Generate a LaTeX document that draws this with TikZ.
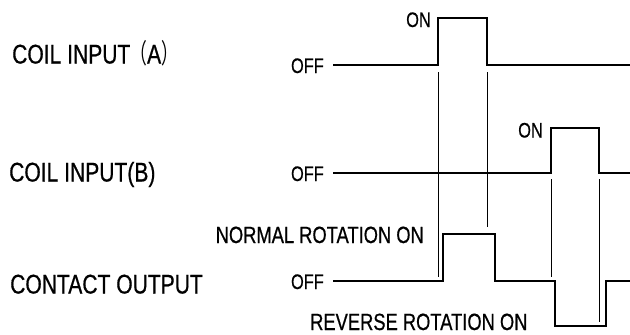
\documentclass[tikz,border=0pt]{standalone}
\usepackage{fontspec}
\setmainfont{Liberation Sans}[FakeStretch=0.78,FakeBold=0.6]
\newfontfamily\cjk{Noto Sans CJK JP}[FakeStretch=0.62]
\begin{document}
\begin{tikzpicture}[x=1pt,y=-1pt,
  sig/.style={line width=2.4pt,line join=miter},
  guide/.style={line width=0.9pt},
  lbl/.style={inner sep=0pt,anchor=base west,font=\fontsize{27}{27}\selectfont},
  lvl/.style={inner sep=0pt,anchor=base east,font=\fontsize{21}{21}\selectfont},
  rot/.style={inner sep=0pt,font=\fontsize{23.5}{24}\selectfont}]
\useasboundingbox (0,0) rectangle (630,335);
% left labels
\node[lbl] (la) at (12,63.5) {COIL INPUT{\cjk （}A{\cjk ）}};
\node[lbl] (lb) at (9,181.5) {COIL INPUT(B)};
\node[lbl] (lc) at (10,293.5) {CONTACT OUTPUT};
% level labels
\node[lvl] (offa) at (324,73) {OFF};
\node[lvl] (ona) at (431,27) {ON};
\node[lvl] (offb) at (324,181) {OFF};
\node[lvl] (onb) at (543,137.5) {ON};
\node[lvl] (offc) at (324,289) {OFF};
\node[rot,anchor=base east] (nrm) at (424,243) {NORMAL ROTATION ON};
\node[rot,anchor=base west] (rev) at (310,330) {REVERSE ROTATION ON};
% signal A
\coordinate (a0) at (333,65);
\coordinate (a1) at (438,65);
\coordinate (a2) at (438,18);
\coordinate (a3) at (487,18);
\coordinate (a4) at (487,65);
\coordinate (a5) at (630,65);
\draw[sig] (a0) -- (a1) -- (a2) -- (a3) -- (a4) -- (a5);
% signal B
\coordinate (b0) at (333,173);
\coordinate (b1) at (551,173);
\coordinate (b2) at (551,128);
\coordinate (b3) at (599,128);
\coordinate (b4) at (599,173);
\coordinate (b5) at (630,173);
\draw[sig] (b0) -- (b1) -- (b2) -- (b3) -- (b4) -- (b5);
% contact output
\coordinate (c0) at (333,281);
\coordinate (c1) at (443,281);
\coordinate (c2) at (443,234);
\coordinate (c3) at (495,234);
\coordinate (c4) at (495,281);
\coordinate (c5) at (555,281);
\coordinate (c6) at (555,326);
\coordinate (c7) at (606,326);
\coordinate (c8) at (606,281);
\coordinate (c9) at (630,281);
\draw[sig] (c0) -- (c1) -- (c2) -- (c3) -- (c4) -- (c5) -- (c6) -- (c7) -- (c8) -- (c9);
% guide lines
\coordinate (g1t) at (438,72);  \coordinate (g1b) at (438,277);
\coordinate (g2t) at (487,72);  \coordinate (g2b) at (487,227);
\coordinate (g3t) at (551,179); \coordinate (g3b) at (551,277);
\coordinate (g4t) at (599,179); \coordinate (g4b) at (599,322);
\draw[guide] (g1t) -- (g1b);
\draw[guide] (g2t) -- (g2b);
\draw[guide] (g3t) -- (g3b);
\draw[guide] (g4t) -- (g4b);
\end{tikzpicture}
\end{document}
